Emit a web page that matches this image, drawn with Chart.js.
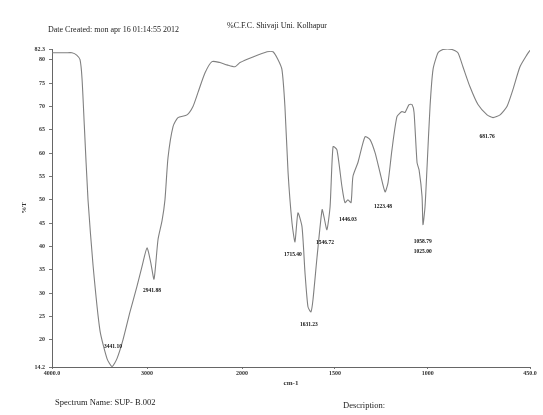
<!DOCTYPE html>
<html>
<head>
<meta charset="utf-8">
<script src="https://cdn.jsdelivr.net/npm/chart.js@4/dist/chart.umd.min.js"></script>
<style>
  body { margin: 0; background: #fff; }
  #wrap { position: relative; width: 543px; height: 415px; }
  .txt { position: absolute; font-family: "Liberation Serif", serif; font-size: 8px; color: #222; white-space: nowrap; }
</style>
</head>
<body>
<div id="wrap">
  <canvas id="myChart"></canvas>
  <div class="txt" style="left:48px;top:25px;">Date Created: mon apr 16 01:14:55 2012</div>
  <div class="txt" style="left:227px;top:21px;">%C.F.C. Shivaji Uni. Kolhapur</div>
  <div class="txt" style="left:55px;top:397px;font-size:8.5px;">Spectrum Name: SUP- B.002</div>
  <div class="txt" style="left:343px;top:400px;font-size:8.5px;">Description:</div>
</div>
<script>
// spectrum (cm-1, %T)
var wavenumbers = [4000, 3850, 3790, 3740, 3705, 3684, 3660, 3621, 3568, 3495, 3421, 3368, 3316, 3253,
  3179, 3105, 3053, 3000, 2960, 2926, 2884, 2842, 2811, 2779, 2726, 2674, 2579, 2516, 2463, 2389,
  2316, 2232, 2158, 2074, 2021, 1941, 1865, 1833, 1806, 1785, 1769, 1752, 1731, 1715, 1699, 1677,
  1661, 1645, 1629, 1618, 1596, 1569, 1559, 1543, 1526, 1510, 1489, 1462, 1446, 1430, 1413, 1403,
  1376, 1338, 1311, 1284, 1257, 1230, 1214, 1193, 1166, 1139, 1123, 1101, 1085, 1074, 1058, 1047,
  1031, 1026, 1015, 1004, 988, 972, 945, 918, 870, 838, 811, 773, 730, 681, 649, 611, 574, 542,
  504, 466, 450];
var transmittance = [81.5, 81.5, 81.5, 81.0, 80, 76, 66, 50, 36, 22, 16, 14.3, 16, 20,
  26, 31.5, 35.7, 39.7, 36.5, 33, 41.5, 45.5, 50, 59, 65.7, 67.6, 68.2, 70, 73, 77.2,
  79.6, 79.4, 78.9, 78.5, 79.4, 80.6, 81.7, 81.7, 80, 77.9, 70, 55.8, 45.1, 41, 47.2, 44.2,
  34.4, 27.1, 26, 28.6, 37.8, 47.9, 46.4, 43.6, 48.5, 61.4, 60.7, 52.8, 49.4, 50, 49.4, 55,
  58, 63.5, 62.9, 60.1, 55.8, 51.7, 53.7, 60.7, 67.8, 68.9, 68.7, 70.4, 70.4, 68.7, 58, 56.4,
  50.7, 44.7, 48.5, 57.1, 70, 77.9, 81.5, 82.2, 82.2, 81.5, 78.5, 74.2, 70.4, 68.2, 67.6, 68.2, 70, 73.6,
  78.5, 81.1, 82];

var xTicks = [4000, 3000, 2000, 1500, 1000, 450];
var xTickLabels = ["4000.0", "3000", "2000", "1500", "1000", "450.0"];
var yTicks = [14.2, 20, 25, 30, 35, 40, 45, 50, 55, 60, 65, 70, 75, 80, 82.3];
var yTickLabels = ["14.2", "20", "25", "30", "35", "40", "45", "50", "55", "60", "65", "70", "75", "80", "82.3"];

// peak labels and where they sit on the plot
var peakText = ["3441.10", "2941.88", "1715.40", "1631.23", "1546.72", "1446.03", "1223.48", "1058.79", "1025.00", "681.76"];
var peakWn = [3358, 2947, 1726, 1640, 1553, 1430, 1241, 1027, 1027, 681];
var peakT = [18.5, 30.5, 38.2, 23.3, 40.8, 45.7, 48.5, 41, 38.9, 63.5];

// x axis with the usual 2x expansion below 2000 cm-1
var BREAK = 0.3975;
function toDecimal(v) {
  if (v >= 2000) return (4000 - v) / 2000 * BREAK;
  return BREAK + (2000 - v) / 1550 * (1 - BREAK);
}
function fromDecimal(d) {
  if (d <= BREAK) return 4000 - d / BREAK * 2000;
  return 2000 - (d - BREAK) / (1 - BREAK) * 1550;
}
var LinearScale = Chart.LinearScale || Chart.registry.getScale("linear");
class BreakScale extends LinearScale {
  getPixelForValue(v) { return this.getPixelForDecimal(toDecimal(v)); }
  getValueForPixel(p) { return fromDecimal(this.getDecimalForPixel(p)); }
}
BreakScale.id = "irbreak";
BreakScale.defaults = LinearScale.defaults;
Chart.register(BreakScale);

var points = wavenumbers.map(function (w, i) { return { x: w, y: transmittance[i] }; });

var peakLabels = {
  id: "peakLabels",
  afterDatasetsDraw: function (chart) {
    var ctx = chart.ctx;
    var xs = chart.scales.x, ys = chart.scales.y;
    ctx.save();
    ctx.font = "bold 5.5px 'Liberation Serif'";
    ctx.fillStyle = "#111";
    ctx.textAlign = "center";
    ctx.textBaseline = "middle";
    for (var i = 0; i < peakText.length; i++) {
      ctx.fillText(peakText[i], xs.getPixelForValue(peakWn[i]), ys.getPixelForValue(peakT[i]));
    }
    ctx.restore();
  }
};

var tickFont = { family: "Liberation Serif", size: 6, weight: "bold" };

var myChart = new Chart(document.getElementById("myChart").getContext("2d"), {
  type: "line",
  data: {
    datasets: [{
      data: points,
      borderColor: "#808080",
      borderWidth: 1.1,
      pointRadius: 0,
      tension: 0.2,
      fill: false
    }]
  },
  options: {
    responsive: true,
    maintainAspectRatio: false,
    animation: false,
    layout: { padding: { top: 49, right: 13, bottom: 0, left: 0 } },
    plugins: { legend: { display: false }, tooltip: { enabled: false } },
    scales: {
      x: {
        type: "irbreak",
        min: 450,
        max: 4000,
        afterFit: function (s) { s.height = 48; },
        afterBuildTicks: function (s) { s.ticks = xTicks.map(function (v) { return { value: v }; }); },
        ticks: {
          autoSkip: false,
          maxRotation: 0,
          padding: 1,
          color: "#333",
          font: tickFont,
          callback: function (v, i) { return xTickLabels[i]; }
        },
        grid: { drawOnChartArea: false, drawTicks: true, tickLength: 2, color: "#777" },
        border: { display: true, color: "#666", width: 1 },
        title: { display: true, text: "cm-1", color: "#333", padding: { bottom: 28 },
          font: { family: "Liberation Serif", size: 7, weight: "bold" } }
      },
      y: {
        min: 14.2,
        max: 82.3,
        afterFit: function (s) { s.width = 52; },
        afterBuildTicks: function (s) { s.ticks = yTicks.map(function (v) { return { value: v }; }); },
        ticks: {
          autoSkip: false,
          padding: 4,
          color: "#333",
          font: tickFont,
          callback: function (v, i) { return yTickLabels[i]; }
        },
        grid: { drawOnChartArea: false, drawTicks: true, tickLength: 3, color: "#777" },
        border: { display: true, color: "#666", width: 1 },
        title: { display: true, text: "%T", color: "#333", padding: { top: 20 },
          font: { family: "Liberation Serif", size: 7, weight: "bold" } }
      }
    }
  },
  plugins: [peakLabels]
});
</script>
</body>
</html>
